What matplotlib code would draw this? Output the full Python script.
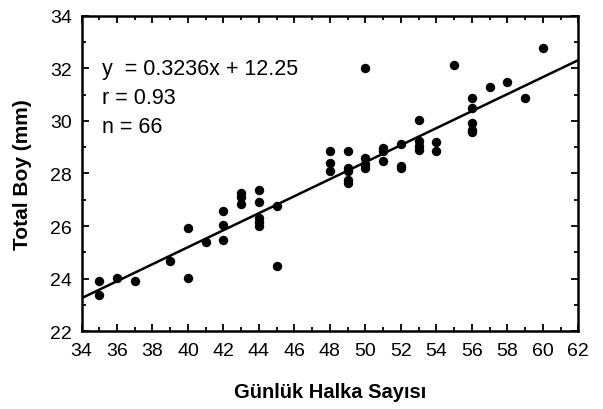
import matplotlib
matplotlib.use("Agg")
import matplotlib.pyplot as plt
import numpy as np
from matplotlib.ticker import MultipleLocator

plt.rcParams['font.family'] = ['Liberation Sans', 'DejaVu Sans']

# Data (x = ring count, y = total length mm)
ring_counts = [35, 35, 36, 37, 39, 40, 40, 41, 42, 42, 42,
               43, 43, 43, 44, 44, 44, 44, 44, 45, 45,
               48, 48, 48, 49, 49, 49, 49, 49,
               50, 50, 50, 50, 51, 51, 51, 52, 52, 52,
               53, 53, 53, 53, 54, 54, 55,
               56, 56, 56, 56, 56, 57, 58, 59, 60]
total_length = [23.92, 23.38, 24.02, 23.92, 24.65, 25.92, 24.02, 25.38, 26.56, 26.02, 25.47,
                27.25, 27.10, 26.85, 27.37, 26.93, 26.30, 26.14, 26.01, 26.75, 24.47,
                28.84, 28.39, 28.10, 28.84, 28.21, 28.10, 27.75, 27.65,
                32.03, 28.58, 28.35, 28.20, 28.96, 28.85, 28.46, 29.12, 28.30, 28.20,
                30.03, 29.25, 29.06, 28.90, 29.21, 28.87, 32.13,
                30.86, 30.49, 29.92, 29.65, 29.57, 31.30, 31.49, 30.86, 32.76]

slope = 0.3236
intercept = 12.25
x_range = [34, 62]
y_range = [22, 34]
stats_lines = ['y  = 0.3236x + 12.25', 'r = 0.93', 'n = 66']

fig = plt.figure(figsize=(6.03, 4.10), dpi=100)
ax = fig.add_axes([0.1352, 0.190, 0.959 - 0.1352, 0.959 - 0.190])

ax.scatter(ring_counts, total_length, s=46, color='black', zorder=3, linewidths=0)
xl = np.array(x_range, dtype=float)
ax.plot(xl, slope * xl + intercept, color='black', lw=1.8, zorder=2)

ax.set_xlim(*x_range)
ax.set_ylim(*y_range)
ax.xaxis.set_major_locator(MultipleLocator(2))
ax.xaxis.set_minor_locator(MultipleLocator(1))
ax.yaxis.set_major_locator(MultipleLocator(2))
ax.yaxis.set_minor_locator(MultipleLocator(1))
ax.tick_params(which='both', direction='in', top=True, right=True, labelsize=14, width=1.3)
ax.tick_params(which='major', length=5)
ax.tick_params(which='minor', length=3)
ax.tick_params(axis='x', which='major', pad=8)
ax.tick_params(axis='y', which='major', pad=7)
for sp in ax.spines.values():
    sp.set_linewidth(1.8)

ax.set_xlabel('Günlük Halka Sayısı', fontsize=14.5, fontweight='bold', va='top')
ax.xaxis.set_label_coords(0.5, -0.16)
ax.set_ylabel('Total Boy (mm)', fontsize=15, fontweight='bold')
ax.yaxis.set_label_coords(-0.10, 0.5)

y0 = 0.815
for i, line in enumerate(stats_lines):
    ax.text(0.041, y0 - i * 0.091, line, transform=ax.transAxes, fontsize=15.5, va='baseline')

fig.savefig('out.png', dpi=100)
